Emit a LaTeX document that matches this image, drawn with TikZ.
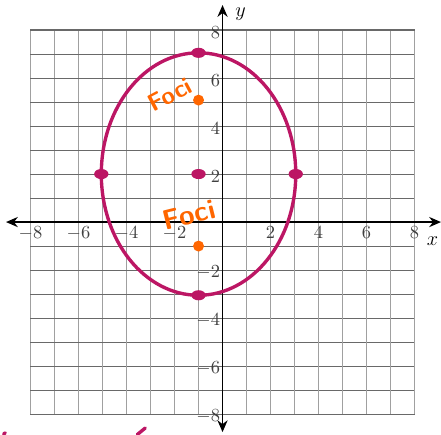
\documentclass[tikz,border=0pt]{standalone}
\usepackage{xcolor}
\usepackage{tikz}
\usetikzlibrary{arrows.meta, shapes.geometric}
\definecolor{pen}{RGB}{188,22,100}
\definecolor{marker}{RGB}{255,102,0}
\definecolor{rulev}{RGB}{160,160,160}
\definecolor{ruleh}{RGB}{105,105,105}

\begin{document}
\begin{tikzpicture}[x=0.5cm, y=0.5cm,
  tick/.style={font=\fontsize{11}{13}\selectfont, text=black!75, inner sep=1pt},
  vertex/.style={ellipse, fill=pen, minimum width=8.5pt, minimum height=6pt, inner sep=0pt},
  focus/.style={circle, fill=marker, minimum size=6.5pt, inner sep=0pt},
  scrawl/.style={font=\sffamily\bfseries\Large, text=marker}]
\useasboundingbox (-9.27,-8.83) rectangle (9.10,9.25);
% grid
\foreach \i in {-8,...,8} {
  \draw[rulev, line width=0.9pt] (\i,-8) -- (\i,8);
  \draw[ruleh, line width=0.6pt] (-8,\i) -- (8,\i);
}
% axes
\draw[line width=1.1pt, {Stealth[length=7pt,width=6pt]}-{Stealth[length=7pt,width=6pt]}] (-9.02,0) -- (9.1,0);
\draw[line width=1.1pt, {Stealth[length=7pt,width=6pt]}-{Stealth[length=7pt,width=6pt]}] (0,-8.75) -- (0,9.04);
\node[font=\large] (xl) at (8.75,-0.8) {$x$};
\node[font=\large] (yl) at (0.75,8.65) {$y$};
\foreach \v in {-8,-6,-4,-2,2,4,6,8} {
  \node[tick, anchor=north] at (\v,-0.12) {$\v$};
  \node[tick, anchor=east] at (-0.02,\v-0.1) {$\v$};
}
% ellipse
\draw[pen, line width=2pt] (-1,2) ellipse (4.05 and 5.05);
\node[vertex] (top) at (-1,7.05) {};
\node[vertex] (bottom) at (-1,-3.05) {};
\node[vertex] (left) at (-5.05,2) {};
\node[vertex] (right) at (3.05,2) {};
\node[vertex] (center) at (-1,2) {};
\node[focus] (fa) at (-1,5.08) {};
\node[focus] (fb) at (-1,-1) {};
\node[scrawl, rotate=28] (la) at (-2.2,5.3) {Foci};
\node[scrawl, rotate=14, scale=1.15] (lb) at (-1.4,0.3) {Foci};
% pen marks cut off at the bottom
\draw[pen, line width=2pt, line cap=round] (-9.12,-8.83) -- (-9.05,-8.78);
\draw[pen, line width=2pt, line cap=round] (-3.55,-8.85) -- (-3.22,-8.58);
\end{tikzpicture}
\end{document}
